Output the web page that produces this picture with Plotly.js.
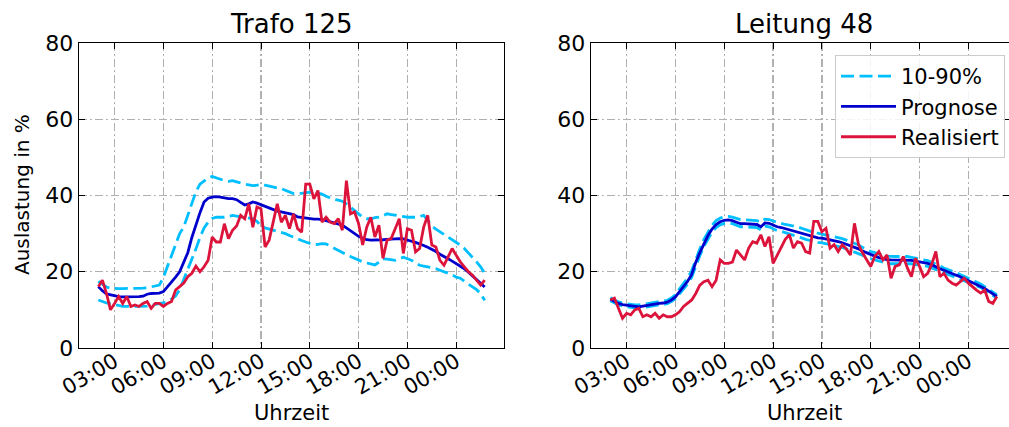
<!DOCTYPE html>
<html>
<head>
<meta charset="utf-8">
<script src="https://cdn.plot.ly/plotly-3.0.1.min.js"></script>
<style>html,body{margin:0;padding:0;background:#fff;}#chart{width:1009px;height:427px;}</style>
</head>
<body>
<div id="chart"></div>
<script>
// 15-minute steps, 02:00 to 01:45 next day
const startTime = '2023-01-01 02:00';
const stepMinutes = 15;
const tickLabels = ['03:00','06:00','09:00','12:00','15:00','18:00','21:00','00:00'];
const tickTimes = ['2023-01-01 03:00','2023-01-01 06:00','2023-01-01 09:00','2023-01-01 12:00','2023-01-01 15:00','2023-01-01 18:00','2023-01-01 21:00','2023-01-02 00:00'];
const yTicks = [0,20,40,60,80];
const titles = ['Trafo 125','Leitung 48'];

const trafoPrognose = [16.1,15.0,14.2,13.9,13.6,13.5,13.4,13.4,13.4,13.4,13.5,13.6,
14.1,14.3,14.3,14.4,14.8,16.0,17.2,18.6,20.0,22.5,25.0,29.0,
32.5,35.5,38.3,39.3,39.6,39.7,39.6,39.4,39.2,39.2,38.9,38.2,
37.5,37.8,38.3,38.0,37.6,37.2,36.6,36.2,35.9,35.7,35.5,35.3,
35.0,34.4,34.2,34.0,33.9,33.8,33.8,33.7,33.4,33.1,32.8,32.4,
32.2,31.5,30.7,29.9,29.3,28.8,28.4,28.3,28.3,28.3,28.4,28.5,
28.6,28.7,28.7,28.6,28.4,28.0,27.7,27.4,26.9,26.4,25.9,25.3,
24.6,23.9,23.4,22.8,22.2,21.5,20.8,19.9,18.9,17.8,16.9,16.0];

const trafoP90 = [17.5,16.8,16.0,15.7,15.6,15.6,15.6,15.6,15.6,15.6,15.7,15.7,
15.8,16.0,16.2,16.5,18.5,21.5,24.5,27.4,30.0,31.7,34.8,38.0,
41.0,43.0,43.9,44.6,45.0,44.6,44.2,43.9,43.7,43.9,43.6,43.2,
43.0,42.8,42.6,42.7,42.9,42.7,42.4,42.2,42.0,41.8,41.4,40.9,
40.5,40.4,40.5,40.7,40.9,40.8,40.6,40.4,39.8,39.3,39.0,38.8,
38.5,37.8,36.9,36.0,35.0,34.3,33.9,33.9,34.2,34.3,34.7,35.2,
35.0,34.8,34.7,34.5,34.3,34.3,34.3,34.5,34.8,33.5,32.0,31.2,
30.5,29.8,29.2,28.5,27.8,27.0,26.1,25.0,23.8,22.6,21.3,19.6];

const trafoP10 = [12.6,12.1,11.8,11.6,11.3,11.0,10.9,10.9,10.9,10.9,10.9,10.9,
11.0,11.2,11.4,11.7,11.9,12.1,12.8,13.6,15.3,18.0,20.5,23.0,
26.0,29.0,31.5,33.0,34.0,34.3,34.3,34.3,34.5,34.8,34.6,34.4,
34.2,34.0,33.9,33.2,32.0,31.5,31.2,30.9,30.6,30.4,30.0,29.5,
29.0,28.6,28.2,27.8,27.5,27.1,27.2,27.4,27.3,26.7,26.1,25.5,
24.9,24.5,24.0,23.5,23.0,22.6,22.3,22.0,21.8,22.5,23.4,23.3,
23.1,23.0,23.4,23.8,23.4,23.0,22.3,21.7,21.5,21.3,21.1,20.8,
20.4,20.0,19.7,19.2,18.6,18.3,17.5,16.8,16.0,15.3,14.3,12.5];

const trafoReal = [16.1,17.8,14.3,10.0,11.7,13.5,11.7,13.5,10.9,11.3,10.9,11.7,
12.2,10.4,11.7,11.7,10.9,11.7,12.2,15.2,16.1,17.0,18.7,19.6,
21.5,20.0,21.3,23.0,29.1,27.8,27.8,32.6,28.7,30.9,32.0,34.8,
33.9,37.8,31.7,37.0,36.5,26.5,28.3,33.0,37.8,33.0,34.8,31.3,
35.2,31.3,30.4,43.0,43.0,39.1,41.3,33.0,34.3,33.0,32.6,33.9,
30.9,43.9,35.2,35.7,32.6,27.0,31.7,34.3,29.1,32.2,23.5,28.3,
28.7,31.3,33.9,24.8,31.3,30.9,25.2,26.1,31.7,34.8,27.0,26.5,
23.0,21.7,23.9,26.1,24.3,22.6,21.3,20.0,19.1,17.8,16.5,17.8];

const leitungPrognose = [12.8,12.2,11.7,11.4,11.2,11.0,10.9,10.8,11.0,11.2,11.5,11.6,
11.7,11.8,12.0,12.6,13.4,14.8,16.0,17.5,19.3,22.5,25.0,27.5,
29.5,31.2,32.4,33.1,33.5,33.6,33.4,33.0,32.6,32.6,32.5,32.5,
32.4,31.8,32.8,32.7,32.2,31.8,31.6,31.3,31.1,30.7,30.5,30.1,
29.7,29.4,29.1,28.9,28.8,28.6,28.3,28.1,27.9,27.6,27.2,26.8,
26.5,26.0,25.4,24.9,24.4,24.1,23.7,23.4,23.2,23.1,23.1,23.1,
23.1,23.1,23.0,22.8,22.6,22.4,22.2,21.8,21.2,20.8,20.4,19.9,
19.5,19.1,18.7,18.2,17.8,17.3,16.8,16.3,15.6,14.9,14.2,13.5];

const leitungP90 = [13.2,12.6,12.1,11.8,11.6,11.4,11.3,11.3,11.5,11.7,11.9,12.0,
12.1,12.3,12.5,13.1,14.0,15.5,16.8,18.4,20.3,23.4,26.0,28.5,
30.5,32.2,33.4,34.1,34.4,34.5,34.3,34.0,33.7,33.6,33.6,33.5,
33.4,33.0,33.8,33.7,33.3,32.9,32.7,32.4,32.2,31.9,31.8,31.4,
31.0,30.6,30.3,30.1,29.9,29.7,29.5,29.2,29.0,28.7,28.3,27.9,
27.5,27.0,26.4,25.8,25.3,25.0,24.6,24.3,24.1,24.0,24.0,24.0,
24.0,24.0,23.8,23.6,23.4,23.1,22.9,22.5,21.9,21.5,21.0,20.5,
20.1,19.7,19.3,18.8,18.4,17.9,17.3,16.8,16.1,15.4,14.6,13.9];

const leitungP10 = [12.4,11.8,11.3,11.0,10.8,10.6,10.5,10.4,10.6,10.8,11.1,11.2,
11.3,11.4,11.6,12.2,12.9,14.2,15.4,16.8,18.6,21.7,24.2,26.7,
28.7,30.4,31.6,32.3,32.7,32.8,32.6,32.2,31.8,31.8,31.7,31.7,
31.6,31.0,32.0,31.8,31.2,30.8,30.6,30.3,30.0,29.6,29.3,28.9,
28.5,28.2,27.9,27.7,27.6,27.4,27.1,26.9,26.7,26.4,26.0,25.6,
25.3,24.9,24.3,23.9,23.4,23.1,22.7,22.4,22.2,22.1,22.1,22.2,
22.2,22.2,22.1,21.9,21.7,21.6,21.4,21.0,20.5,20.1,19.7,19.3,
18.9,18.5,18.1,17.7,17.3,16.8,16.3,15.9,15.2,14.5,13.8,13.1];

const leitungReal = [12.6,13.1,10.4,7.8,9.1,8.7,10.0,10.4,8.2,8.7,8.2,9.1,
7.8,8.7,8.2,8.2,8.7,9.5,10.9,11.8,12.6,14.3,16.5,17.4,
17.8,16.1,17.8,23.1,22.2,22.2,22.5,25.7,24.4,23.1,26.2,27.9,
27.5,29.7,26.6,29.2,22.2,24.4,26.6,28.5,29.7,26.2,27.9,27.5,
25.3,24.9,33.2,33.2,30.5,31.4,26.2,27.1,25.3,27.1,26.0,24.4,
32.7,27.1,24.9,23.0,21.4,24.0,25.3,23.1,24.4,18.3,21.4,21.8,
24.0,21.0,18.7,23.5,21.4,18.7,19.6,22.0,25.3,18.7,19.6,17.8,
17.0,16.5,17.5,18.3,17.0,16.0,15.2,14.4,15.2,12.2,11.7,13.5];

function pad(n){return (n<10?'0':'')+n;}
function timeAt(i){
  const p = startTime.split(/[- :]/).map(Number);
  const d = new Date(Date.UTC(p[0],p[1]-1,p[2],p[3],p[4]) + i*stepMinutes*60000);
  return d.getUTCFullYear()+'-'+pad(d.getUTCMonth()+1)+'-'+pad(d.getUTCDate())+' '+pad(d.getUTCHours())+':'+pad(d.getUTCMinutes());
}
const times = trafoPrognose.map((_,i)=>timeAt(i));

const C_BAND = '#00bfff', C_PROG = '#0000cd', C_REAL = '#dc143c';
const FONT = 'DejaVu Sans, Liberation Sans, sans-serif';

function series(xa, ya, p10, p90, prog, real, legend){
  return [
    {x:times, y:p90, xaxis:xa, yaxis:ya, mode:'lines', name:'10-90%', legendgroup:'band',
     line:{color:C_BAND, width:2.8, dash:'13px,5.5px'}, showlegend:legend, hoverinfo:'skip'},
    {x:times, y:p10, xaxis:xa, yaxis:ya, mode:'lines', name:'10-90%', legendgroup:'band',
     line:{color:C_BAND, width:2.8, dash:'13px,5.5px'}, showlegend:false, hoverinfo:'skip'},
    {x:times, y:prog, xaxis:xa, yaxis:ya, mode:'lines', name:'Prognose', legendgroup:'prog',
     line:{color:C_PROG, width:2.8}, showlegend:legend, hoverinfo:'skip'},
    {x:times, y:real, xaxis:xa, yaxis:ya, mode:'lines', name:'Realisiert', legendgroup:'real',
     line:{color:C_REAL, width:2.8}, showlegend:legend, hoverinfo:'skip'}
  ];
}

const data = [].concat(
  series('x','y', trafoP10, trafoP90, trafoPrognose, trafoReal, false),
  series('x2','y2', leitungP10, leitungP90, leitungPrognose, leitungReal, true)
);

const W = 1009, H = 427;
const yDom = [(H-348)/H, (H-43)/H];
function xAxis(dom, range, anchor){
  return {type:'date', domain:dom, range:range, anchor:anchor,
    tickvals:tickTimes, ticktext:tickLabels, tickangle:-30, ticklabelstandoff:-8,
    ticks:'inside', ticklen:6, tickwidth:1, tickcolor:'#000',
    showline:true, linecolor:'#000', linewidth:1.3, mirror:'ticks',
    showgrid:true, gridcolor:'#b0b0b0', gridwidth:1.2, griddash:'8px,3px,2px,3px',
    zeroline:false, tickfont:{family:FONT, size:21, color:'#000'}, automargin:false};
}
function yAxis(anchor){
  return {domain:yDom, range:[0,80], anchor:anchor, tickvals:yTicks,
    ticks:'inside', ticklen:6, tickwidth:1, tickcolor:'#000',
    showline:true, linecolor:'#000', linewidth:1.3, mirror:'ticks',
    showgrid:true, gridcolor:'#b0b0b0', gridwidth:1.2, griddash:'8px,3px,2px,3px',
    zeroline:false, tickfont:{family:FONT, size:22, color:'#000'}, automargin:false};
}

const layout = {
  width:W, height:H, margin:{l:0,r:0,t:0,b:0},
  paper_bgcolor:'#fff', plot_bgcolor:'#fff',
  font:{family:FONT, color:'#000'},
  xaxis: xAxis([79/W, 504/W], ['2023-01-01 00:48:45','2023-01-02 02:56:15'], 'y'),
  yaxis: yAxis('x'),
  xaxis2: xAxis([591/W, 1], ['2023-01-01 00:48:45','2023-01-02 02:29:45'], 'y2'),
  yaxis2: yAxis('x2'),
  showlegend:true,
  legend:{x:1005/W, xanchor:'right', y:(H-55)/H, yanchor:'top', itemwidth:55,
    bgcolor:'rgba(255,255,255,0.85)', bordercolor:'#cccccc', borderwidth:1,
    font:{family:FONT, size:21, color:'#000'}, tracegroupgap:0},
  annotations:[
    {text:titles[0], xref:'paper', yref:'paper', x:291.5/W, y:(H-24)/H, xanchor:'center', yanchor:'middle', showarrow:false, font:{family:FONT, size:26, color:'#000'}},
    {text:titles[1], xref:'paper', yref:'paper', x:804/W, y:(H-24)/H, xanchor:'center', yanchor:'middle', showarrow:false, font:{family:FONT, size:26, color:'#000'}},
    {text:'Uhrzeit', xref:'paper', yref:'paper', x:291.5/W, y:(H-413)/H, xanchor:'center', yanchor:'middle', showarrow:false, font:{family:FONT, size:21, color:'#000'}},
    {text:'Uhrzeit', xref:'paper', yref:'paper', x:804/W, y:(H-413)/H, xanchor:'center', yanchor:'middle', showarrow:false, font:{family:FONT, size:21, color:'#000'}},
    {text:'Auslastung in %', xref:'paper', yref:'paper', x:22/W, y:(H-195)/H, xanchor:'center', yanchor:'middle', textangle:-90, showarrow:false, font:{family:FONT, size:20, color:'#000'}}
  ]
};

Plotly.newPlot('chart', data, layout, {displayModeBar:false, staticPlot:true});
</script>
</body>
</html>
